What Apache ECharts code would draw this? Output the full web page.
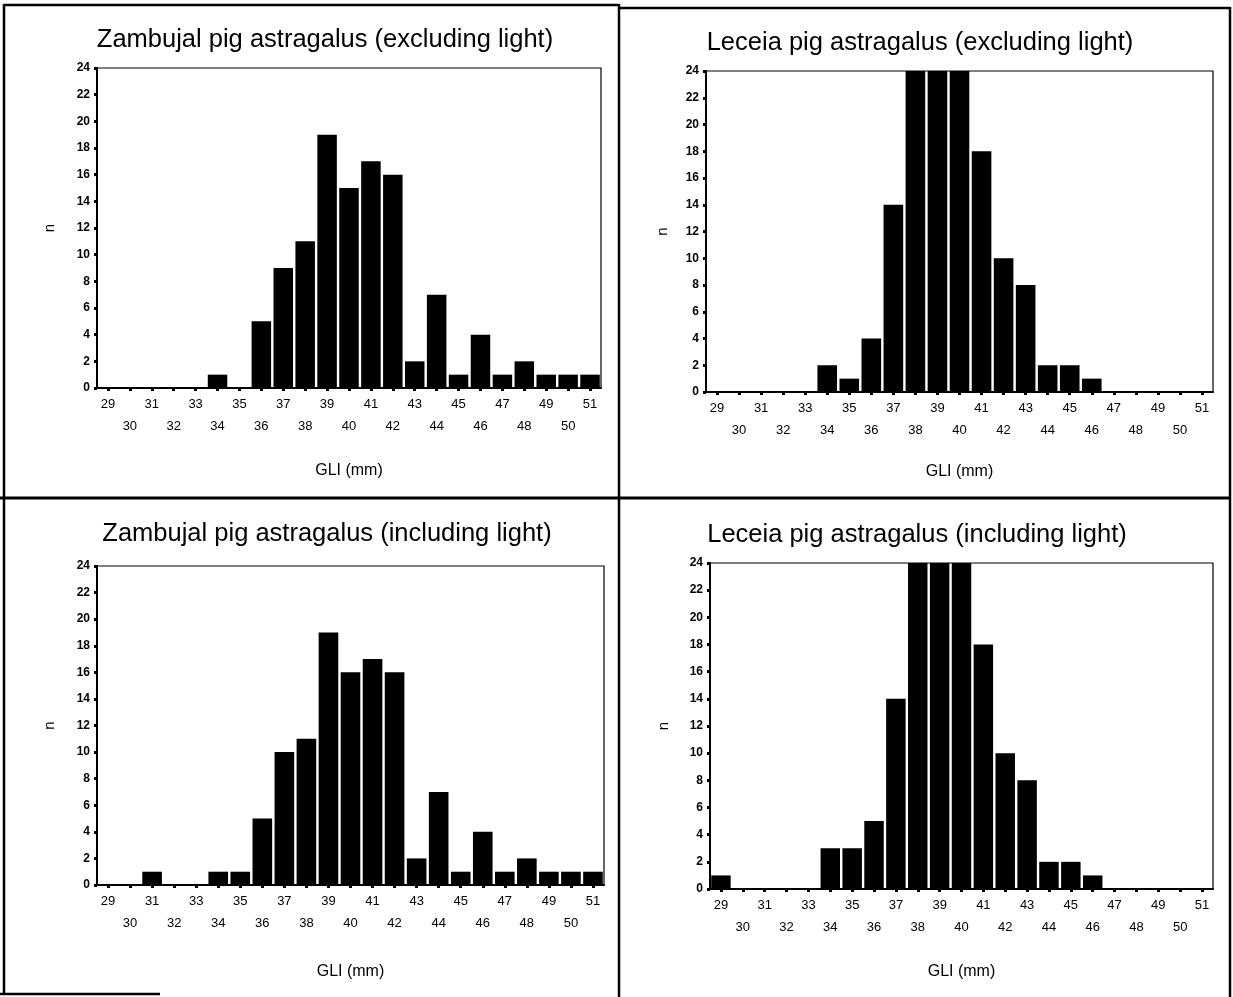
<!DOCTYPE html>
<html>
<head>
<meta charset="utf-8">
<script src="https://cdn.jsdelivr.net/npm/echarts@6/dist/echarts.min.js"></script>
<style>
html,body{margin:0;padding:0;background:#fff;}
#chart{width:1233px;height:997px;}
</style>
</head>
<body>
<div id="chart"></div>
<script>
const categories = ['29','30','31','32','33','34','35','36','37','38','39','40','41','42','43','44','45','46','47','48','49','50','51'];
const yTicks = [0,2,4,6,8,10,12,14,16,18,20,22,24];
const titles = [
  'Zambujal pig astragalus (excluding light)',
  'Leceia pig astragalus (excluding light)',
  'Zambujal pig astragalus (including light)',
  'Leceia pig astragalus (including light)'
];
const zambujalExcluding = [0,0,0,0,0,1,0,5,9,11,19,15,17,16,2,7,1,4,1,2,1,1,1];
const leceiaExcluding   = [0,0,0,0,0,2,1,4,14,24,24,24,18,10,8,2,2,1,0,0,0,0,0];
const zambujalIncluding = [0,0,1,0,0,1,1,5,10,11,19,16,17,16,2,7,1,4,1,2,1,1,1];
const leceiaIncluding   = [1,0,0,0,0,3,3,5,14,24,24,24,18,10,8,2,2,1,0,0,0,0,0];
const xName = 'GLI (mm)';
const yName = 'n';

const FONT = "'Liberation Sans', Arial, Helvetica, sans-serif";
const seriesData = [zambujalExcluding, leceiaExcluding, zambujalIncluding, leceiaIncluding];

const grids = [
  {left: 97,  top: 68,  width: 504, height: 320},
  {left: 706, top: 71,  width: 507, height: 321},
  {left: 97,  top: 566, width: 507, height: 319},
  {left: 710, top: 563, width: 503, height: 326}
];
const titlePos = [[325, 27], [920, 30], [327, 521], [917, 522]];
const xNameGap = [75, 72, 79, 75];
const yNameGap = [40, 36, 40, 39];

const chart = echarts.init(document.getElementById('chart'), null, {renderer: 'canvas'});

const option = {
  backgroundColor: '#fff',
  animation: false,
  textStyle: {fontFamily: FONT},
  title: titles.map((t, i) => ({
    text: t,
    left: titlePos[i][0],
    top: titlePos[i][1],
    textAlign: 'center',
    padding: 0,
    textStyle: {fontFamily: FONT, fontSize: 25.5, fontWeight: 'normal', color: '#000'}
  })),
  grid: grids.map(g => Object.assign({show: true, borderColor: '#000', borderWidth: 1.2, backgroundColor: 'transparent', containLabel: false}, g)),
  xAxis: grids.map((g, i) => ({
    type: 'category',
    gridIndex: i,
    data: categories,
    name: xName,
    nameLocation: 'middle',
    nameGap: xNameGap[i],
    nameTextStyle: {fontFamily: FONT, fontSize: 16, color: '#000'},
    axisLine: {show: true, lineStyle: {color: '#000', width: 2}},
    axisTick: {show: true, alignWithLabel: true, length: 3, lineStyle: {color: '#000', width: 3}},
    axisLabel: {
      interval: 0,
      margin: 5,
      fontFamily: FONT,
      fontSize: 13,
      color: '#000',
      lineHeight: 22,
      formatter: (v, idx) => (idx % 2 === 0 ? v : '\n' + v)
    },
    splitLine: {show: false}
  })),
  yAxis: grids.map((g, i) => ({
    type: 'value',
    gridIndex: i,
    min: 0,
    max: 24,
    interval: 2,
    name: yName,
    nameLocation: 'middle',
    nameGap: yNameGap[i],
    nameTextStyle: {fontFamily: FONT, fontSize: 15, color: '#000'},
    axisLine: {show: true, lineStyle: {color: '#000', width: 2}},
    axisTick: {show: true, length: 3, lineStyle: {color: '#000', width: 3}},
    axisLabel: {
      margin: 7,
      fontFamily: FONT,
      fontSize: 12,
      fontWeight: 'bold',
      color: '#000',
      formatter: v => (yTicks.indexOf(v) >= 0 ? String(v) : '')
    },
    splitLine: {show: false}
  })),
  series: seriesData.map((d, i) => ({
    type: 'bar',
    xAxisIndex: i,
    yAxisIndex: i,
    data: d,
    barCategoryGap: '11%',
    itemStyle: {color: '#000'},
    clip: true
  })),
  graphic: [
    {type: 'line', shape: {x1: 4, y1: 5, x2: 619, y2: 5}, style: {stroke: '#000', lineWidth: 2.5}},
    {type: 'line', shape: {x1: 619, y1: 8, x2: 1230, y2: 8}, style: {stroke: '#000', lineWidth: 2.5}},
    {type: 'line', shape: {x1: 4, y1: 4, x2: 4, y2: 995}, style: {stroke: '#000', lineWidth: 2.5}},
    {type: 'line', shape: {x1: 619, y1: 4, x2: 619, y2: 997}, style: {stroke: '#000', lineWidth: 2.5}},
    {type: 'line', shape: {x1: 1230, y1: 7, x2: 1230, y2: 997}, style: {stroke: '#000', lineWidth: 2.5}},
    {type: 'line', shape: {x1: 0, y1: 498, x2: 1231, y2: 498}, style: {stroke: '#000', lineWidth: 3}},
    {type: 'line', shape: {x1: 0, y1: 994, x2: 160, y2: 994}, style: {stroke: '#000', lineWidth: 2.5}}
  ]
};
chart.setOption(option);
</script>
</body>
</html>
